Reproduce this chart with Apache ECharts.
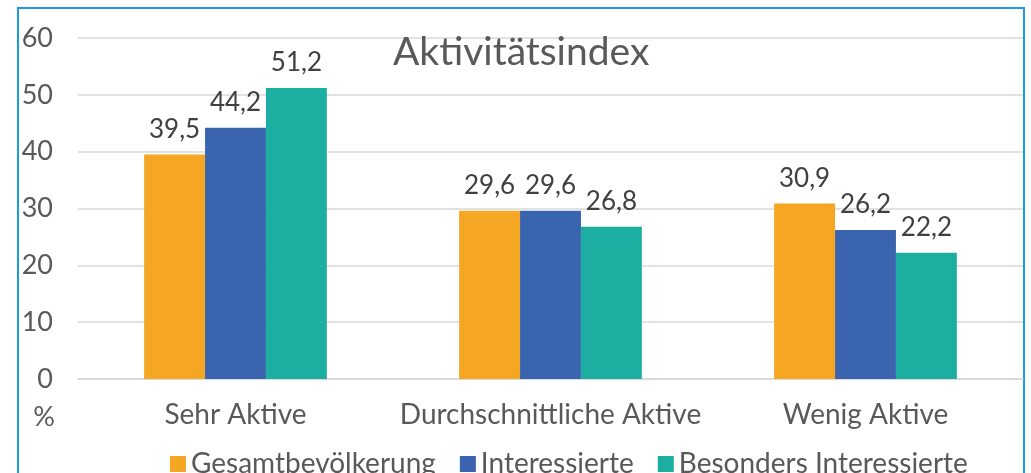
<!DOCTYPE html>
<html><head><meta charset="utf-8">
<script src="https://cdn.jsdelivr.net/npm/echarts@6/dist/echarts.min.js"></script>
<style>html,body{margin:0;padding:0;background:#fff}#c{width:1031px;height:473px}</style>
</head><body><div id="c"></div>
<script>
const categories = ['Sehr Aktive', 'Durchschnittliche Aktive', 'Wenig Aktive'];
const seriesNames = ['Gesamtbevölkerung', 'Interessierte', 'Besonders Interessierte'];
const gesamt = [39.5, 29.6, 30.9];
const interessierte = [44.2, 29.6, 26.2];
const besonders = [51.2, 26.8, 22.2];
const colors = ['#F5A623', '#3A65AE', '#1CAEA0'];
const font = 'Lato, "Noto Sans", sans-serif';

const chart = echarts.init(document.getElementById('c'), null, {renderer: 'canvas'});
const values = [gesamt, interessierte, besonders];
chart.setOption({
  animation: false,
  textStyle: {fontFamily: font},
  title: {text: 'Aktivitätsindex', left: 388, top: 28,
    textStyle: {fontFamily: font, fontSize: 39, fontWeight: 'normal', color: '#595959'}},
  grid: {left: 78, right: 8, top: 38, bottom: 94, containLabel: false},
  legend: {left: 165, top: 445, itemWidth: 16, itemHeight: 16, itemGap: 24, icon: 'rect',
    textStyle: {fontFamily: font, fontSize: 28, color: '#595959'}, data: seriesNames},
  xAxis: {type: 'category', data: categories,
    axisLine: {lineStyle: {color: '#d9d9d9', width: 1.5}}, axisTick: {show: false},
    axisLabel: {interval: 0, hideOverlap: false, fontFamily: font, fontSize: 28, color: '#595959', margin: 22}},
  yAxis: {type: 'value', min: 0, max: 60, interval: 10,
    axisLine: {show: false}, axisTick: {show: false},
    splitLine: {lineStyle: {color: '#d9d9d9', width: 1.5}},
    axisLabel: {fontFamily: font, fontSize: 27, color: '#595959', margin: 25}},
  series: seriesNames.map((n, i) => ({
    name: n, type: 'bar', data: values[i], barGap: '0%', barCategoryGap: '42%',
    itemStyle: {color: colors[i]},
    label: {show: true, position: 'top', distance: 12, fontFamily: font, fontSize: 26, color: '#404040',
      formatter: p => String(p.value).replace('.', ',')}
  })),
  graphic: [
    {type: 'rect', shape: {x: 18, y: 8, width: 1006, height: 480}, style: {fill: 'none', stroke: '#1E9BE0', lineWidth: 2}, silent: true},
    {type: 'text', x: 44, y: 417, style: {text: '%', fontFamily: font, fontSize: 27, fill: '#595959', align: 'center', verticalAlign: 'middle'}}
  ]
});
</script></body></html>
